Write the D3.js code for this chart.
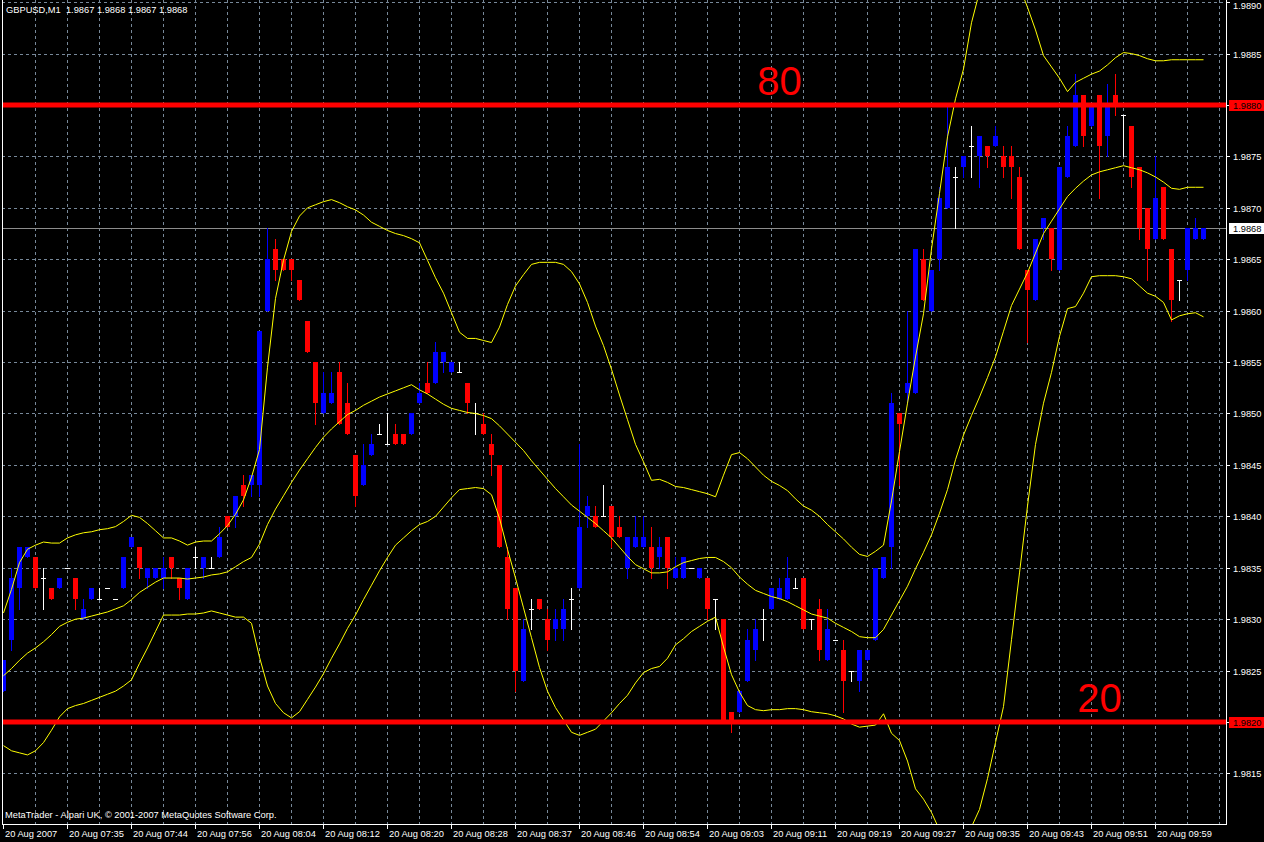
<!DOCTYPE html>
<html><head><meta charset="utf-8">
<script src="https://cdn.jsdelivr.net/npm/d3@7"></script>
<style>html,body{margin:0;padding:0;background:#000;overflow:hidden}svg{display:block}</style>
</head><body>
<svg id="c" width="1264" height="842"></svg>
<script>
// ---------------- DATA ----------------
const titleText = "GBPUSD,M1  1.9867 1.9868 1.9867 1.9868";
const copyrightText = "MetaTrader - Alpari UK, \u00A9 2001-2007 MetaQuotes Software Corp.";

const open = [1.9823,1.9828,1.9833,1.9836,1.9836,1.9834,1.9833,1.9833,1.9835,1.9834,
1.9830,1.9832,1.9832,1.9833,1.9832,1.9833,1.9837,1.9837,1.9834,1.9834,
1.9834,1.9836,1.9834,1.9832,1.9836,1.9835,1.9835,1.9836,1.9840,1.9840,
1.9843,1.9843,1.9843,1.9860,1.9866,1.9865,1.9865,1.9863,1.9859,1.9855,
1.9850,1.9851,1.9854,1.9851,1.9846,1.9843,1.9846,1.9848,1.9847,1.9848,
1.9848,1.9848,1.9851,1.9853,1.9853,1.9855,1.9854,1.9854,1.9853,1.9850,
1.9849,1.9847,1.9845,1.9836,1.9833,1.9824,1.9831,1.9832,1.9830,1.9829,
1.9829,1.9832,1.9833,1.9840,1.9840,1.9840,1.9841,1.9839,1.9835,1.9837,
1.9837,1.9837,1.9836,1.9838,1.9834,1.9834,1.9835,1.9834,1.9834,1.9832,
1.9830,1.9821,1.9821,1.9824,1.9827,1.9830,1.9831,1.9832,1.9832,1.9833,
1.9834,1.9830,1.9831,1.9826,1.9828,1.9827,1.9825,1.9824,1.9826,1.9828,
1.9834,1.9837,1.9850,1.9852,1.9852,1.9865,1.9860,1.9865,1.9870,1.9873,
1.9874,1.9876,1.9875,1.9876,1.9876,1.9875,1.9875,1.9873,1.9864,1.9861,
1.9868,1.9868,1.9864,1.9873,1.9876,1.9881,1.9878,1.9881,1.9877,1.9881,
1.9879,1.9878,1.9874,1.9870,1.9867,1.9872,1.9866,1.9863,1.9864,1.9867,
1.9867];
const high = [1.9826,1.9835,1.9837,1.9837,1.9836,1.9835,1.9833,1.9834,1.9835,1.9834,
1.9832,1.9833,1.9833,1.9833,1.9832,1.9836,1.9838,1.9837,1.9835,1.9835,
1.9836,1.9836,1.9834,1.9835,1.9837,1.9836,1.9836,1.9839,1.9840,1.9842,
1.9844,1.9844,1.9858,1.9868,1.9867,1.9865,1.9865,1.9863,1.9859,1.9855,
1.9854,1.9854,1.9855,1.9853,1.9846,1.9847,1.9848,1.9849,1.9850,1.9849,
1.9848,1.9850,1.9853,1.9855,1.9857,1.9856,1.9855,1.9855,1.9853,1.9851,
1.9850,1.9848,1.9845,1.9837,1.9833,1.9830,1.9832,1.9832,1.9831,1.9831,
1.9832,1.9833,1.9847,1.9842,1.9841,1.9843,1.9841,1.9840,1.9838,1.9840,
1.9840,1.9839,1.9838,1.9838,1.9836,1.9836,1.9835,1.9835,1.9834,1.9832,
1.9830,1.9821,1.9823,1.9829,1.9830,1.9831,1.9833,1.9834,1.9836,1.9834,
1.9834,1.9830,1.9832,1.9831,1.9828,1.9828,1.9825,1.9827,1.9827,1.9835,
1.9836,1.9852,1.9850,1.9860,1.9866,1.9866,1.9864,1.9872,1.9880,1.9874,
1.9875,1.9878,1.9877,1.9876,1.9878,1.9876,1.9876,1.9874,1.9864,1.9867,
1.9869,1.9868,1.9874,1.9878,1.9883,1.9881,1.9880,1.9881,1.9882,1.9883,
1.9879,1.9878,1.9874,1.9870,1.9875,1.9872,1.9866,1.9863,1.9868,1.9869,
1.9868];
const low = [1.9823,1.9827,1.9831,1.9836,1.9833,1.9831,1.9832,1.9833,1.9835,1.9831,
1.9830,1.9832,1.9832,1.9833,1.9832,1.9833,1.9837,1.9834,1.9833,1.9834,
1.9833,1.9834,1.9832,1.9832,1.9835,1.9834,1.9835,1.9836,1.9839,1.9839,
1.9841,1.9842,1.9842,1.9860,1.9863,1.9864,1.9863,1.9861,1.9856,1.9849,
1.9850,1.9851,1.9849,1.9848,1.9841,1.9843,1.9846,1.9848,1.9847,1.9847,
1.9847,1.9848,1.9851,1.9852,1.9853,1.9854,1.9854,1.9854,1.9850,1.9848,
1.9848,1.9844,1.9837,1.9830,1.9823,1.9824,1.9829,1.9831,1.9827,1.9828,
1.9828,1.9829,1.9833,1.9839,1.9839,1.9840,1.9837,1.9838,1.9834,1.9837,
1.9837,1.9834,1.9835,1.9833,1.9834,1.9834,1.9835,1.9834,1.9830,1.9829,
1.9820,1.9819,1.9821,1.9824,1.9826,1.9828,1.9831,1.9832,1.9832,1.9833,
1.9829,1.9829,1.9826,1.9826,1.9828,1.9821,1.9824,1.9823,1.9826,1.9828,
1.9834,1.9835,1.9843,1.9851,1.9852,1.9861,1.9860,1.9864,1.9870,1.9868,
1.9873,1.9873,1.9872,1.9874,1.9876,1.9873,1.9871,1.9866,1.9857,1.9861,
1.9867,1.9864,1.9864,1.9873,1.9876,1.9876,1.9878,1.9871,1.9875,1.9879,
1.9875,1.9872,1.9867,1.9863,1.9867,1.9867,1.9859,1.9861,1.9863,1.9867,
1.9867];
const close = [1.9826,1.9834,1.9837,1.9837,1.9833,1.9834,1.9832,1.9834,1.9835,1.9832,
1.9831,1.9833,1.9832,1.9833,1.9832,1.9836,1.9838,1.9835,1.9835,1.9835,
1.9835,1.9835,1.9833,1.9835,1.9836,1.9836,1.9835,1.9838,1.9839,1.9842,
1.9842,1.9844,1.9858,1.9865,1.9864,1.9864,1.9864,1.9861,1.9856,1.9851,
1.9852,1.9852,1.9849,1.9848,1.9842,1.9845,1.9847,1.9848,1.9847,1.9847,
1.9847,1.9850,1.9852,1.9852,1.9856,1.9856,1.9855,1.9854,1.9851,1.9850,
1.9848,1.9846,1.9837,1.9831,1.9825,1.9829,1.9831,1.9831,1.9828,1.9830,
1.9831,1.9832,1.9839,1.9841,1.9839,1.9840,1.9838,1.9838,1.9838,1.9838,
1.9838,1.9835,1.9837,1.9835,1.9835,1.9836,1.9835,1.9835,1.9831,1.9832,
1.9820,1.9820,1.9823,1.9828,1.9829,1.9830,1.9833,1.9833,1.9834,1.9833,
1.9829,1.9830,1.9827,1.9829,1.9828,1.9824,1.9825,1.9827,1.9827,1.9835,
1.9836,1.9851,1.9849,1.9853,1.9866,1.9861,1.9864,1.9871,1.9874,1.9873,
1.9875,1.9876,1.9877,1.9875,1.9877,1.9874,1.9874,1.9866,1.9862,1.9867,
1.9869,1.9865,1.9874,1.9877,1.9881,1.9877,1.9880,1.9876,1.9880,1.9880,
1.9879,1.9873,1.9868,1.9866,1.9871,1.9867,1.9861,1.9863,1.9868,1.9868,
1.9868];

// Bollinger bands (one value per bar)
const bbUpper = [1.98306,1.98329,1.98355,1.98368,1.98372,1.98375,1.98374,1.98374,1.98379,1.98382,
1.98384,1.98385,1.98387,1.98388,1.98390,1.98395,1.98401,1.98399,1.98393,1.98386,
1.98379,1.98379,1.98376,1.98372,1.98375,1.98376,1.98376,1.98383,1.98391,1.98402,
1.98416,1.98438,1.98465,1.98545,1.98612,1.98649,1.98677,1.98692,1.98700,1.98703,
1.98706,1.98708,1.98705,1.98701,1.98698,1.98693,1.98686,1.98682,1.98678,1.98675,
1.98673,1.98670,1.98666,1.98649,1.98632,1.98617,1.98598,1.98579,1.98573,1.98573,
1.98571,1.98569,1.98584,1.98606,1.98624,1.98635,1.98645,1.98647,1.98647,1.98647,
1.98645,1.98638,1.98626,1.98608,1.98585,1.98566,1.98543,1.98518,1.98494,1.98470,
1.98453,1.98435,1.98436,1.98433,1.98429,1.98428,1.98426,1.98424,1.98422,1.98419,
1.98440,1.98460,1.98462,1.98456,1.98448,1.98440,1.98434,1.98430,1.98425,1.98417,
1.98410,1.98406,1.98400,1.98392,1.98385,1.98378,1.98370,1.98363,1.98361,1.98366,
1.98372,1.98415,1.98463,1.98510,1.98555,1.98597,1.98660,1.98714,1.98769,1.98806,
1.98835,1.98880,1.98910,1.98935,1.98945,1.98945,1.98935,1.98915,1.98895,1.98873,
1.98848,1.98837,1.98826,1.98813,1.98822,1.98826,1.98830,1.98833,1.98839,1.98846,
1.98851,1.98850,1.98848,1.98845,1.98843,1.98843,1.98844,1.98844,1.98844,1.98844,
1.98844];
const bbMiddle = [1.98245,1.98252,1.98260,1.98267,1.98272,1.98278,1.98285,1.98293,1.98297,1.98300,
1.98301,1.98303,1.98305,1.98307,1.98310,1.98313,1.98319,1.98326,1.98331,1.98336,
1.98340,1.98340,1.98340,1.98339,1.98340,1.98341,1.98343,1.98344,1.98346,1.98351,
1.98356,1.98360,1.98373,1.98392,1.98407,1.98420,1.98433,1.98445,1.98456,1.98467,
1.98477,1.98485,1.98492,1.98499,1.98503,1.98508,1.98512,1.98516,1.98519,1.98522,
1.98525,1.98528,1.98523,1.98519,1.98514,1.98509,1.98505,1.98503,1.98501,1.98500,
1.98498,1.98495,1.98488,1.98480,1.98472,1.98464,1.98454,1.98445,1.98436,1.98427,
1.98419,1.98411,1.98405,1.98399,1.98393,1.98386,1.98379,1.98370,1.98361,1.98353,
1.98349,1.98345,1.98345,1.98346,1.98351,1.98355,1.98357,1.98359,1.98360,1.98360,
1.98356,1.98350,1.98341,1.98334,1.98328,1.98325,1.98322,1.98320,1.98317,1.98313,
1.98309,1.98305,1.98303,1.98301,1.98296,1.98292,1.98288,1.98283,1.98282,1.98282,
1.98290,1.98304,1.98318,1.98332,1.98349,1.98365,1.98382,1.98403,1.98426,1.98455,
1.98479,1.98498,1.98516,1.98535,1.98555,1.98580,1.98605,1.98621,1.98637,1.98656,
1.98675,1.98687,1.98699,1.98711,1.98719,1.98726,1.98732,1.98735,1.98737,1.98739,
1.98741,1.98739,1.98737,1.98734,1.98730,1.98725,1.98719,1.98718,1.98720,1.98720,
1.98720];
const bbLower = [1.98177,1.98172,1.98170,1.98168,1.98172,1.98180,1.98192,1.98205,1.98213,1.98216,
1.98218,1.98221,1.98224,1.98227,1.98230,1.98235,1.98241,1.98257,1.98272,1.98288,
1.98304,1.98304,1.98304,1.98305,1.98305,1.98306,1.98308,1.98306,1.98304,1.98302,
1.98302,1.98296,1.98263,1.98235,1.98218,1.98209,1.98204,1.98210,1.98222,1.98234,
1.98247,1.98262,1.98276,1.98291,1.98304,1.98319,1.98333,1.98347,1.98360,1.98372,
1.98379,1.98386,1.98392,1.98395,1.98400,1.98409,1.98418,1.98426,1.98427,1.98428,
1.98427,1.98421,1.98398,1.98368,1.98340,1.98311,1.98282,1.98253,1.98230,1.98214,
1.98202,1.98190,1.98187,1.98190,1.98193,1.98201,1.98209,1.98218,1.98226,1.98238,
1.98248,1.98252,1.98254,1.98262,1.98275,1.98281,1.98288,1.98293,1.98298,1.98302,
1.98273,1.98246,1.98229,1.98216,1.98212,1.98211,1.98212,1.98212,1.98213,1.98213,
1.98212,1.98210,1.98209,1.98208,1.98206,1.98203,1.98198,1.98195,1.98196,1.98197,
1.98208,1.98189,1.98182,1.98162,1.98135,1.98125,1.98112,1.98095,1.98080,1.98080,
1.98090,1.98098,1.98115,1.98145,1.98180,1.98215,1.98280,1.98345,1.98410,1.98470,
1.98510,1.98540,1.98575,1.98602,1.98604,1.98617,1.98633,1.98634,1.98634,1.98634,
1.98633,1.98631,1.98624,1.98617,1.98614,1.98608,1.98591,1.98595,1.98597,1.98598,
1.98594];

const timeLabels = ["20 Aug 2007","20 Aug 07:35","20 Aug 07:44","20 Aug 07:56","20 Aug 08:04",
"20 Aug 08:12","20 Aug 08:20","20 Aug 08:28","20 Aug 08:37","20 Aug 08:46","20 Aug 08:54",
"20 Aug 09:03","20 Aug 09:11","20 Aug 09:19","20 Aug 09:27","20 Aug 09:35","20 Aug 09:43",
"20 Aug 09:51","20 Aug 09:59"];
const barsPerLabel = 8;
const priceTicks = [1.9890,1.9885,1.9880,1.9875,1.9870,1.9865,1.9860,1.9855,1.9850,
1.9845,1.9840,1.9835,1.9830,1.9825,1.9820,1.9815];
const levelPrices = [1.9880, 1.9820];
const levelTexts = ["80", "20"];
const levelTextBar = [97, 137];
const lastPrice = 1.9868;

// ---------------- LAYOUT ----------------
const W = 1264, H = 842;
const L = 2, R = 1226, T = 0, B = 824;
const n = open.length;
const x = d3.scaleLinear().domain([0, 150]).range([3.5, 1203.5]);
const y = d3.scaleLinear().domain([1.9820, 1.9880]).range([722, 105]);
const FONT = "'Liberation Sans', Arial, sans-serif";
const FS = "9.3px";
const GRID = "#778899";

const svg = d3.select("#c");
svg.append("rect").attr("width", W).attr("height", H).attr("fill", "#000");
svg.append("defs").append("clipPath").attr("id", "clip")
  .append("rect").attr("x", L).attr("y", T).attr("width", R - L).attr("height", B - T);

const g = svg.append("g").attr("clip-path", "url(#clip)");

// grid: horizontal
g.append("g").selectAll("line").data(priceTicks).join("line")
  .attr("x1", L).attr("x2", R)
  .attr("y1", d => Math.round(y(d)) + 0.5).attr("y2", d => Math.round(y(d)) + 0.5)
  .attr("stroke", GRID).attr("stroke-dasharray", "3,3").attr("stroke-width", 1);
// grid: vertical, every 4 bars
const vBars = d3.range(4, 153, 4);
g.append("g").selectAll("line").data(vBars).join("line")
  .attr("x1", d => x(d)).attr("x2", d => x(d))
  .attr("y1", T).attr("y2", B)
  .attr("stroke", GRID).attr("stroke-dasharray", "3,3").attr("stroke-width", 1);

// last price line
g.append("line").attr("x1", L).attr("x2", R)
  .attr("y1", Math.round(y(lastPrice)) + 0.5).attr("y2", Math.round(y(lastPrice)) + 0.5)
  .attr("stroke", "#8c8c8c").attr("stroke-width", 1);

// candles
const idx = d3.range(n);
const col = i => close[i] > open[i] ? "#0000ff" : (close[i] < open[i] ? "#ff0000" : "#ffffff");
const cg = g.append("g").attr("shape-rendering", "crispEdges");
cg.selectAll("rect.w").data(idx).join("rect").attr("class", "w")
  .attr("x", i => x(i) - 0.5).attr("width", 1)
  .attr("y", i => Math.round(y(high[i])))
  .attr("height", i => Math.max(1, Math.round(y(low[i])) - Math.round(y(high[i])) + 1))
  .attr("fill", col);
cg.selectAll("rect.b").data(idx).join("rect").attr("class", "b")
  .attr("x", i => x(i) - 2.5).attr("width", 5)
  .attr("y", i => Math.round(y(Math.max(open[i], close[i]))))
  .attr("height", i => Math.max(1, Math.round(y(Math.min(open[i], close[i]))) - Math.round(y(Math.max(open[i], close[i])))))
  .attr("fill", col);

// bollinger bands
const line = d3.line().x((d, i) => x(i)).y(d => y(d));
[bbUpper, bbMiddle, bbLower].forEach(arr => {
  g.append("path").datum(arr).attr("d", line)
    .attr("fill", "none").attr("stroke", "#ffff00").attr("stroke-width", 1);
});

// levels
g.selectAll("line.lv").data(levelPrices).join("line").attr("class", "lv")
  .attr("x1", L).attr("x2", R)
  .attr("y1", d => y(d)).attr("y2", d => y(d))
  .attr("stroke", "#ff0000").attr("stroke-width", 5);
svg.selectAll("text.lvt").data(levelTexts).join("text").attr("class", "lvt")
  .attr("x", (d, i) => x(levelTextBar[i]))
  .attr("y", (d, i) => y(levelPrices[i]) - 10)
  .attr("text-anchor", "middle")
  .attr("font-family", FONT).attr("font-size", "40px").attr("fill", "#ff0000")
  .text(d => d);

// borders
svg.append("g").attr("shape-rendering", "crispEdges").call(s => {
  s.append("line").attr("x1", L + 0.5).attr("x2", L + 0.5).attr("y1", T).attr("y2", B + 0.5).attr("stroke", "#fff");
  s.append("line").attr("x1", R + 0.5).attr("x2", R + 0.5).attr("y1", T).attr("y2", B + 0.5).attr("stroke", "#fff");
  s.append("line").attr("x1", L).attr("x2", R + 1).attr("y1", B + 0.5).attr("y2", B + 0.5).attr("stroke", "#fff");
});

// right price axis
const labelY = d => Math.max(9, Math.round(y(d)) + 4);
const ra = svg.append("g");
ra.selectAll("line").data(priceTicks).join("line")
  .attr("x1", R).attr("x2", R + 4)
  .attr("y1", d => Math.round(y(d)) + 0.5).attr("y2", d => Math.round(y(d)) + 0.5)
  .attr("stroke", "#fff");
ra.selectAll("text").data(priceTicks.filter(p => !levelPrices.includes(p))).join("text")
  .attr("x", R + 7).attr("y", labelY)
  .attr("font-family", FONT).attr("font-size", FS).attr("fill", "#fff")
  .text(d => d.toFixed(4));
// highlighted price boxes
const boxes = levelPrices.map(p => ({p, bg: "#ff0000", fg: "#000"})).concat([{p: lastPrice, bg: "#ffffff", fg: "#000"}]);
boxes.forEach(b => {
  const yy = Math.round(y(b.p));
  ra.append("rect").attr("x", R + 3).attr("y", yy - 5).attr("width", 35).attr("height", 11).attr("fill", b.bg);
  ra.append("text").attr("x", R + 7).attr("y", yy + 4)
    .attr("font-family", FONT).attr("font-size", FS).attr("fill", b.fg).text(b.p.toFixed(4));
});

// bottom time axis
const ba = svg.append("g");
ba.selectAll("line").data(timeLabels).join("line")
  .attr("x1", (d, i) => x(i * barsPerLabel)).attr("x2", (d, i) => x(i * barsPerLabel))
  .attr("y1", B).attr("y2", B + 5).attr("stroke", "#fff");
ba.selectAll("text").data(timeLabels).join("text")
  .attr("x", (d, i) => x(i * barsPerLabel) + 1.5).attr("y", 837)
  .attr("font-family", FONT).attr("font-size", FS).attr("fill", "#fff")
  .text(d => d);

// title and copyright
svg.append("text").attr("x", 6).attr("y", 13).attr("xml:space", "preserve").style("white-space", "pre")
  .attr("font-family", FONT).attr("font-size", FS).attr("fill", "#fff").text(titleText);
svg.append("text").attr("x", 5).attr("y", 818)
  .attr("font-family", FONT).attr("font-size", FS).attr("fill", "#fff").text(copyrightText);
</script>
</body></html>
